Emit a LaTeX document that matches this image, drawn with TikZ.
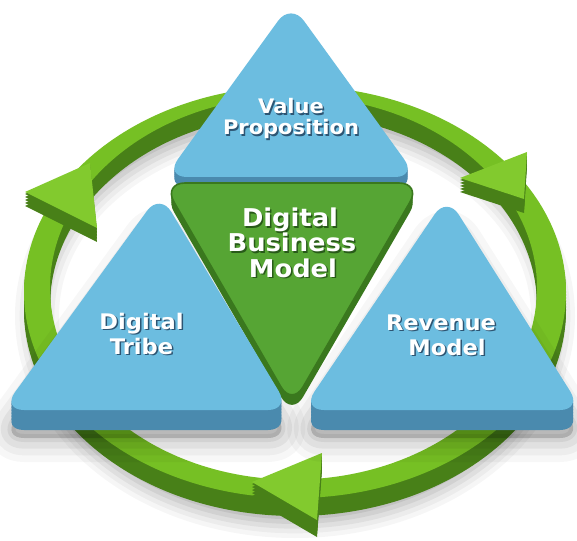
\documentclass[tikz,border=0pt]{standalone}
\usepackage{fontspec}
\newfontfamily\labfont{DejaVu Sans}[FakeStretch=1.05]
\definecolor{skyface}{RGB}{108,189,224}
\definecolor{skyband}{RGB}{74,138,174}
\definecolor{gface}{RGB}{86,165,52}
\definecolor{gwall}{RGB}{58,120,30}
\definecolor{ringface}{RGB}{118,192,36}
\definecolor{ringwall}{RGB}{72,128,24}
\definecolor{arrowface}{RGB}{130,202,46}
\definecolor{txtsh}{RGB}{45,85,115}
\definecolor{gtxtsh}{RGB}{40,90,25}
\tikzset{
  lbl/.style={text=white, inner sep=0pt, anchor=base},
  vpsize/.style={font=\labfont\bfseries\fontsize{15pt}{15pt}\selectfont},
  tsize/.style={font=\labfont\bfseries\fontsize{16.1pt}{16pt}\selectfont},
  gsize/.style={font=\labfont\bfseries\fontsize{18.4pt}{18pt}\selectfont},
  rc/.style={rounded corners=16.5pt},
}
\newcommand\lblpair[6]{%
  \node[lbl,#4,text=#5,xshift=1.1pt,yshift=-1.1pt] (#1s) at (#2,#3) {#6};
  \node[lbl,#4] (#1) at (#2,#3) {#6};}
\def\arrTL{(90,163) -- (25,192) -- (97,228) -- cycle}
\def\arrTR{(460,178) -- (527,152) -- (524,199) -- cycle}
\def\arrB{(252,482) -- (322,453) -- (317,520) -- cycle}
\def\toptri{(291,3) -- (165,177) -- (417,177) -- cycle}
\def\gtri{(163,183) -- (421,183) -- (292,406) -- cycle}
\def\lefttri{(160,193) -- (2,410) -- (290,410) -- cycle}
\def\righttri{(447,196) -- (302,410) -- (582,410) -- cycle}
\begin{document}
\begin{tikzpicture}[x=0.75pt,y=-0.75pt]
\useasboundingbox (0,0) rectangle (577,541);
\fill[white] (0,0) rectangle (577,541);
% ring shadow
\foreach \w/\o in {33pt/0.035,26pt/0.04,19pt/0.05,12pt/0.06,5pt/0.07}
  \draw[black,opacity=\o,line width=\w] (295,316) ellipse [x radius=258, y radius=200];
% ring wall and face
\foreach \s in {18,15,12,9,6,3}
  \fill[ringwall, even odd rule, shift={(0,\s)}] (295,292) ellipse [x radius=271, y radius=206] (293.5,288) ellipse [x radius=243.5, y radius=191.6];
\fill[ringface, even odd rule] (295,292) ellipse [x radius=271, y radius=206] (293.5,288) ellipse [x radius=243.5, y radius=191.6];
% arrowheads
\foreach \s in {14,11,...,2} \fill[ringwall, shift={(0,\s)}] \arrTL;
\fill[arrowface] \arrTL;
\foreach \s in {14,11,...,2} \fill[ringwall, shift={(0,\s)}] \arrTR;
\fill[arrowface] \arrTR;
\foreach \s in {17,14,...,2} \fill[ringwall, shift={(0,\s)}] \arrB;
\fill[arrowface] \arrB;
% triangle shadows
\foreach \w/\o in {36pt/0.03,26pt/0.04,16pt/0.05,6pt/0.06}{
  \filldraw[black, opacity=\o, line width=\w, rc, line join=round, shift={(0,28)}] \lefttri;
  \filldraw[black, opacity=\o, line width=\w, rc, line join=round, shift={(0,28)}] \righttri;
}
% top triangle
\foreach \s in {10,8,...,2} \fill[skyband, rc, shift={(0,\s)}] \toptri;
\fill[skyface, rc] \toptri;
% green triangle
\foreach \s in {10,8,...,2} \fill[gwall, rc, shift={(0,\s)}] \gtri;
\filldraw[fill=gface, draw=gwall, line width=1.2pt, rc] \gtri;
% left triangle
\foreach \s in {20,17,...,2} \fill[skyband, rc, shift={(0,\s)}] \lefttri;
\fill[skyface, rc] \lefttri;
% right triangle
\foreach \s in {20,17,...,2} \fill[skyband, rc, shift={(0,\s)}] \righttri;
\fill[skyface, rc] \righttri;
% labels
\lblpair{vp1}{291}{114}{vpsize}{txtsh}{Value}
\lblpair{vp2}{291}{135}{vpsize}{txtsh}{Proposition}
\lblpair{dbm1}{290}{227}{gsize}{gtxtsh}{Digital}
\lblpair{dbm2}{292}{252}{gsize}{gtxtsh}{Business}
\lblpair{dbm3}{293}{277}{gsize}{gtxtsh}{Model}
\lblpair{dt1}{141.5}{329}{tsize}{txtsh}{Digital}
\lblpair{dt2}{141.5}{354}{tsize}{txtsh}{Tribe}
\lblpair{rm1}{441}{330}{tsize}{txtsh}{Revenue}
\lblpair{rm2}{447}{355}{tsize}{txtsh}{Model}
\end{tikzpicture}
\end{document}
